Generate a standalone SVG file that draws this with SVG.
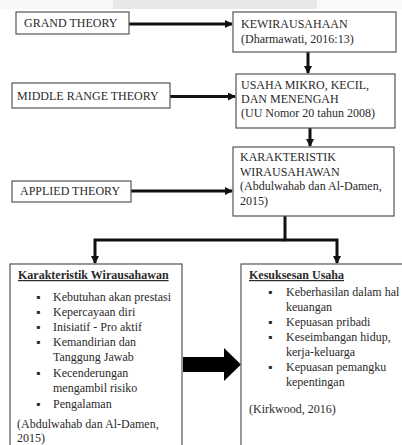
<svg xmlns="http://www.w3.org/2000/svg" width="402" height="445" viewBox="0 0 402 445">
<style>
.box{fill:#fff;stroke:#555;stroke-width:1.2}
.t{font-family:"Liberation Serif","Times New Roman",serif;font-size:12px;fill:#2a2a2a}
.b{font-weight:bold;text-decoration:underline}
.con{fill:none;stroke:#111;stroke-width:3}
</style>
<defs>
<marker id="ah" markerUnits="userSpaceOnUse" markerWidth="8" markerHeight="8" refX="7" refY="4" orient="auto">
<path d="M0,0 L8,4 L0,8 z" fill="#111"/>
</marker>
</defs>
<rect x="0" y="0" width="402" height="445" fill="#fff"/>
<rect x="0" y="0" width="113" height="9" fill="#f7f7f7"/>
<rect x="113" y="0" width="204" height="9" fill="#e8e8e8"/>
<rect x="317" y="0" width="85" height="9" fill="#f9f9f9"/>

<g id="connectors">
<line class="con" x1="129" y1="24" x2="232" y2="24" marker-end="url(#ah)"/>
<line class="con" x1="170" y1="96.5" x2="235" y2="96.5" marker-end="url(#ah)"/>
<line class="con" x1="131" y1="191" x2="232" y2="191" marker-end="url(#ah)"/>
<line class="con" x1="308" y1="52" x2="308" y2="73" marker-end="url(#ah)"/>
<line class="con" x1="310" y1="128" x2="310" y2="146" marker-end="url(#ah)"/>
<path class="con" d="M285,240 H95 V263" marker-end="url(#ah)"/>
<path class="con" d="M285,216 V240 H337 V263" marker-end="url(#ah)"/>
<polygon points="183,357 224,357 224,348 241,364.5 224,381 224,372 183,372" fill="#000"/>
</g>

<g id="grand-theory">
<rect class="box" x="16" y="12" width="113" height="22"/>
<text class="t" x="24" y="27">GRAND THEORY</text>
</g>
<g id="kewirausahaan">
<rect class="box" x="233" y="12" width="163" height="40"/>
<text class="t" x="241" y="28">KEWIRAUSAHAAN</text>
<text class="t" x="241" y="43">(Dharmawati, 2016:13)</text>
</g>
<g id="middle-range-theory">
<rect class="box" x="12" y="83" width="158" height="25"/>
<text class="t" x="17" y="100">MIDDLE RANGE THEORY</text>
</g>
<g id="usaha-mikro">
<rect class="box" x="236" y="74" width="159" height="54"/>
<text class="t" x="241" y="89">USAHA MIKRO, KECIL,</text>
<text class="t" x="241" y="103">DAN MENENGAH</text>
<text class="t" x="241" y="117">(UU Nomor 20 tahun 2008)</text>
</g>
<g id="applied-theory">
<rect class="box" x="12" y="181" width="119" height="21"/>
<text class="t" x="20" y="195">APPLIED THEORY</text>
</g>
<g id="karakteristik">
<rect class="box" x="233" y="147" width="161" height="69"/>
<text class="t" x="240" y="161">KARAKTERISTIK</text>
<text class="t" x="240" y="176">WIRAUSAHAWAN</text>
<text class="t" x="240" y="190">(Abdulwahab dan Al-Damen,</text>
<text class="t" x="240" y="205">2015)</text>
</g>
<g id="karakteristik-wirausahawan">
<rect class="box" x="10" y="264" width="172" height="190"/>
<text class="t b" x="18" y="279">Karakteristik Wirausahawan</text>
<g class="t">
<text x="36" y="301">▪</text><text x="53" y="301">Kebutuhan akan prestasi</text>
<text x="36" y="316">▪</text><text x="53" y="316">Kepercayaan diri</text>
<text x="36" y="331">▪</text><text x="53" y="331">Inisiatif - Pro aktif</text>
<text x="36" y="346">▪</text><text x="53" y="346">Kemandirian dan</text>
<text x="53" y="361">Tanggung Jawab</text>
<text x="36" y="377">▪</text><text x="53" y="377">Kecenderungan</text>
<text x="53" y="392">mengambil risiko</text>
<text x="36" y="408">▪</text><text x="53" y="408">Pengalaman</text>
<text x="17" y="428">(Abdulwahab dan Al-Damen,</text>
<text x="17" y="442">2015)</text>
</g>
</g>
<g id="kesuksesan-usaha">
<rect class="box" x="241" y="264" width="170" height="190"/>
<text class="t b" x="249" y="279">Kesuksesan Usaha</text>
<g class="t">
<text x="268" y="296">▪</text><text x="286" y="296">Keberhasilan dalam hal</text>
<text x="286" y="311">keuangan</text>
<text x="268" y="326">▪</text><text x="286" y="326">Kepuasan pribadi</text>
<text x="268" y="341">▪</text><text x="286" y="341">Keseimbangan hidup,</text>
<text x="286" y="356">kerja-keluarga</text>
<text x="268" y="371">▪</text><text x="286" y="371">Kepuasan pemangku</text>
<text x="286" y="386">kepentingan</text>
<text x="249" y="413">(Kirkwood, 2016)</text>
</g>
</g>
</svg>
